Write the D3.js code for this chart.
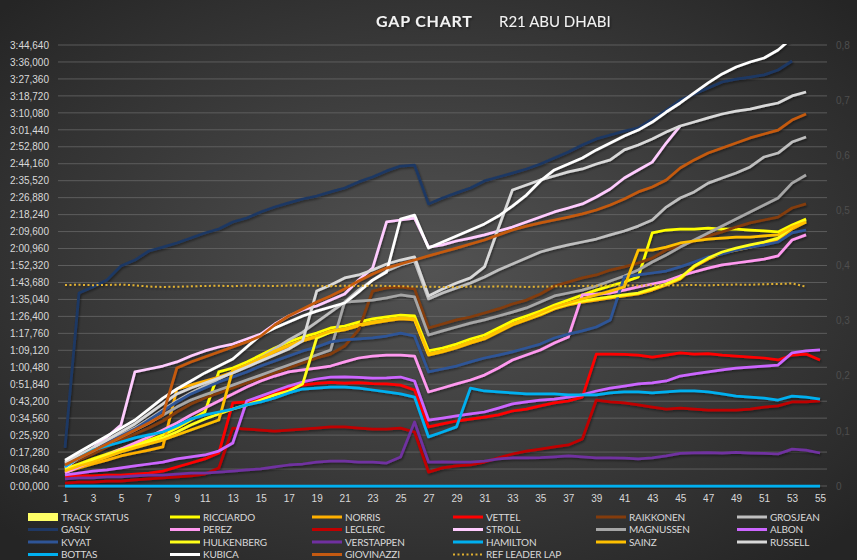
<!DOCTYPE html>
<html>
<head>
<meta charset="utf-8">
<script src="https://cdn.jsdelivr.net/npm/d3@7"></script>
<style>
html, body { margin: 0; padding: 0; background: #2a2a2a; }
svg { display: block; font-family: Lato, "Open Sans", sans-serif; }
</style>
</head>
<body>
<svg id="chart" width="857" height="560"></svg>
<script>
// laps on the x axis
var laps = [1,2,3,4,5,6,7,8,9,10,11,12,13,14,15,16,17,18,19,20,21,22,23,24,25,26,27,28,29,30,
  31,32,33,34,35,36,37,38,39,40,41,42,43,44,45,46,47,48,49,50,51,52,53,54,55];

// left axis ticks (seconds), right axis ticks
var yTicks = [0, 8.64, 17.28, 25.92, 34.56, 43.2, 51.84, 60.48, 69.12, 77.76, 86.4, 95.04, 103.68,
  112.32, 120.96, 129.6, 138.24, 146.88, 155.52, 164.16, 172.8, 181.44, 190.08, 198.72, 207.36, 216, 224.64];
var y2Ticks = [0, 0.1, 0.2, 0.3, 0.4, 0.5, 0.6, 0.7, 0.8];

// gap to leader, seconds, one value per lap
var trackStatus = [0,0,0,0,0,0,0,0,0,0,0,0,0,0,0,0,0,0,0,0,0,0,0,0,0,0,0,0,0,0,0,0,0,0,0,0,0,0,0,0,0,0,0,0,0,0,0,0,0,0,0,0,0,0,0];
var ricciardo = [8.7, 11.2, 13.8, 16.3, 18.8, 20.9, 23.4, 26.0, 29.5, 33.6, 37.7, 58.1, 60.1, 63.2, 66.7, 70.3, 73.4, 75.9, 77.9, 80.5,
  81.5, 83.5, 85.1, 86.1, 87.1, 86.6, 68.8, 70.3, 72.3, 74.9, 76.9, 80.5, 84.1, 86.6, 89.1, 92.2, 94.7, 97.3, 99.8, 101.9,
  103.9, 106.5, 128.9, 130.4, 130.9, 130.9, 131.4, 130.9, 130.9, 130.4, 129.9, 129.4, 133.0, 136.0];
var norris = [7.1, 9.2, 11.2, 13.2, 15.3, 16.8, 18.3, 19.9, 49.4, 51.4, 53.5, 55.5, 58.1, 61.1, 64.7, 68.3, 71.3, 73.9, 75.9, 78.4,
  79.5, 81.5, 83.0, 84.1, 85.1, 84.6, 66.7, 68.3, 70.3, 72.8, 74.9, 78.4, 82.0, 84.6, 87.1, 90.2, 92.2, 93.7, 94.7, 95.8,
  96.8, 97.8, 99.8, 102.4, 105.4, 111.6, 115.6, 118.7, 120.2, 121.7, 123.3, 125.3, 130.9, 134.5];
var vettel = [4.6, 5.1, 5.1, 5.6, 5.6, 6.1, 6.6, 7.6, 9.7, 11.7, 13.8, 16.8, 42.3, 42.8, 44.8, 47.4, 49.9, 51.4, 52.3, 52.8,
  52.4, 52.7, 52.2, 52.0, 51.4, 48.9, 30.1, 31.6, 33.1, 34.1, 35.1, 36.2, 38.2, 39.2, 40.8, 42.3, 43.3, 45.3, 67.2, 67.2,
  67.0, 66.7, 65.7, 66.7, 67.8, 67.2, 67.4, 66.7, 66.2, 65.7, 65.2, 64.2, 66.7, 67.2, 64.2];
var raikkonen = [10.2, 13.2, 16.3, 19.9, 23.4, 26.5, 29.5, 33.1, 37.7, 41.8, 44.8, 47.4, 49.9, 52.5, 55.0, 57.6, 60.1, 62.7, 65.2, 67.2,
  71.3, 79.5, 99.3, 100.9, 101.4, 100.4, 80.5, 82.5, 84.6, 86.1, 88.1, 90.2, 92.7, 94.7, 97.8, 101.9, 103.9, 106.0, 107.5, 110.0,
  111.6, 113.6, 116.1, 120.2, 122.3, 124.8, 127.4, 129.4, 131.9, 134.0, 135.5, 137.0, 141.6, 143.7];
var grosjean = [11.7, 15.3, 18.8, 22.4, 26.0, 29.5, 34.1, 38.7, 43.3, 47.4, 50.9, 54.5, 58.1, 61.6, 65.2, 69.8, 74.4, 78.4, 83.5, 88.6,
  93.7, 99.8, 104.9, 109.5, 112.6, 114.6, 95.3, 98.3, 100.9, 103.4, 106.5, 110.0, 113.1, 116.1, 119.2, 121.2, 122.8, 124.3, 125.8, 127.9,
  129.9, 132.4, 135.5, 142.1, 146.7, 149.8, 154.3, 156.9, 159.4, 162.5, 167.6, 169.6, 175.2, 177.8];
var gasly = [19.4, 98.3, 101.4, 104.9, 112.1, 115.1, 119.7, 121.7, 123.8, 126.3, 128.9, 130.9, 134.5, 136.5, 139.6, 142.1, 144.2, 146.2, 147.7, 149.8,
  151.8, 154.9, 157.4, 160.5, 163.0, 163.4, 143.7, 146.7, 149.3, 151.8, 155.4, 157.4, 159.4, 161.5, 164.0, 167.1, 170.1, 173.7, 176.8, 178.8,
  180.8, 182.4, 186.9, 191.5, 196.6, 199.7, 202.7, 205.8, 207.3, 208.3, 209.4, 211.9, 216.5];
var perez = [6.6, 9.7, 12.7, 15.8, 18.8, 21.9, 25.0, 28.5, 32.1, 36.2, 39.7, 43.3, 46.9, 50.4, 53.5, 56.0, 58.1, 59.1, 60.1, 61.1,
  63.2, 65.2, 66.2, 66.7, 66.7, 66.2, 47.9, 49.9, 52.0, 54.0, 56.5, 60.1, 64.2, 66.7, 69.3, 72.8, 75.9, 97.3, 97.8, 98.3,
  99.8, 101.4, 102.9, 104.4, 107.0, 109.0, 111.0, 112.6, 113.6, 114.6, 115.6, 117.2, 125.3, 127.9];
var leclerc = [1.5, 2.0, 2.0, 2.5, 2.5, 3.1, 3.6, 4.1, 4.6, 5.1, 6.1, 9.2, 29.5, 29.0, 28.5, 28.0, 28.5, 29.0, 29.5, 30.1,
  30.1, 29.5, 29.0, 29.0, 29.5, 27.5, 7.1, 9.2, 10.2, 10.7, 12.2, 14.3, 16.3, 17.8, 18.8, 19.9, 20.9, 23.9, 43.8, 42.8,
  42.3, 41.3, 40.2, 39.2, 39.7, 39.2, 38.7, 38.7, 38.7, 39.2, 40.2, 40.8, 42.8, 42.8, 43.4];
var stroll = [9.2, 14.3, 19.4, 25.0, 31.1, 58.1, 59.6, 61.1, 63.2, 66.2, 68.8, 70.8, 72.3, 74.9, 77.4, 82.5, 86.6, 89.7, 91.7, 94.7,
  97.8, 104.9, 111.0, 134.5, 135.5, 136.5, 121.7, 122.8, 124.8, 126.3, 127.9, 129.9, 131.9, 134.5, 137.0, 139.6, 141.6, 143.7, 147.2, 151.3,
  156.9, 161.0, 165.0, 174.7, 183.4];
var magnussen = [11.2, 14.3, 17.8, 21.4, 25.0, 28.5, 32.1, 36.2, 40.2, 43.8, 46.4, 48.9, 51.4, 54.0, 56.5, 59.1, 61.6, 64.2, 66.7, 69.3,
  93.7, 94.2, 94.7, 95.8, 97.3, 96.3, 76.9, 79.0, 81.0, 83.0, 84.6, 86.6, 88.6, 90.7, 93.7, 96.8, 98.3, 99.8, 101.9, 104.4,
  107.0, 110.0, 114.1, 117.7, 121.7, 125.3, 128.9, 132.4, 136.0, 139.6, 143.1, 146.7, 154.3, 158.4];
var albon = [5.6, 6.6, 7.6, 8.2, 9.2, 10.2, 11.2, 12.2, 13.8, 14.8, 15.8, 17.8, 21.9, 43.3, 45.8, 48.4, 50.9, 53.0, 54.5, 55.5,
  55.6, 55.3, 55.0, 55.1, 55.5, 53.5, 33.6, 34.6, 35.7, 36.7, 37.7, 39.7, 41.8, 42.8, 43.8, 44.3, 45.3, 46.4, 48.4, 49.9,
  50.9, 52.0, 52.5, 53.5, 56.0, 57.1, 58.1, 59.1, 60.1, 60.6, 61.1, 61.6, 67.8, 68.8, 69.3];
var kvyat = [10.2, 14.3, 18.3, 21.9, 25.5, 29.0, 33.6, 38.2, 42.8, 46.9, 49.9, 53.0, 55.5, 58.1, 61.1, 63.7, 66.2, 68.8, 70.8, 73.4,
  74.4, 74.9, 75.4, 76.4, 77.9, 76.4, 58.1, 59.6, 61.1, 63.2, 65.2, 66.7, 68.3, 70.3, 72.3, 75.4, 77.4, 79.0, 81.0, 84.6,
  106.5, 107.5, 108.5, 109.5, 111.6, 114.1, 116.7, 118.2, 120.2, 121.7, 122.8, 124.3, 128.9, 130.4];
var hulkenberg = [8.2, 10.7, 13.2, 15.8, 18.3, 20.4, 22.4, 24.5, 27.5, 31.1, 34.1, 36.7, 39.2, 41.3, 43.8, 46.4, 48.4, 52.0, 75.4, 78.4,
  80.0, 82.0, 83.5, 84.6, 85.6, 85.1, 67.2, 68.8, 70.8, 73.4, 75.4, 79.0, 82.5, 85.1, 87.6, 90.7, 92.7, 94.2, 95.3, 96.3,
  97.3, 98.3, 100.4, 102.9, 106.0, 112.1, 116.1, 119.2, 121.2, 122.8, 124.3, 126.3, 131.9, 135.5];
var verstappen = [3.6, 4.1, 4.1, 4.6, 4.6, 5.1, 5.6, 5.6, 6.1, 6.6, 6.6, 7.1, 7.6, 8.2, 8.7, 9.7, 10.7, 11.2, 12.2, 12.7,
  12.7, 12.2, 12.2, 11.7, 14.8, 32.6, 12.2, 12.3, 12.1, 12.2, 12.7, 13.8, 14.3, 14.3, 14.4, 14.8, 15.3, 14.8, 14.3, 14.3,
  14.2, 13.8, 14.3, 15.3, 16.6, 16.9, 17.0, 16.7, 17.1, 16.8, 16.6, 16.3, 18.8, 18.3, 16.8];
var hamilton = [0,0,0,0,0,0,0,0,0,0,0,0,0,0,0,0,0,0,0,0,0,0,0,0,0,0,0,0,0,0,0,0,0,0,0,0,0,0,0,0,0,0,0,0,0,0,0,0,0,0,0,0,0,0,0];
var sainz = [7.6, 10.2, 12.2, 14.8, 17.3, 19.4, 21.4, 23.4, 26.0, 28.5, 31.1, 33.6, 59.1, 61.6, 65.2, 68.8, 71.8, 74.4, 76.4, 79.0,
  80.0, 82.0, 83.5, 84.6, 85.6, 85.1, 67.2, 68.8, 70.8, 73.4, 75.4, 79.0, 82.5, 85.1, 88.1, 91.2, 93.2, 95.3, 97.3, 99.3,
  101.4, 120.2, 120.2, 121.7, 123.8, 124.8, 125.8, 126.3, 126.8, 126.8, 127.4, 127.9, 131.9, 134.5];
var russell = [12.2, 15.8, 19.4, 23.4, 27.5, 31.6, 36.7, 41.8, 46.9, 49.9, 52.5, 55.0, 57.6, 60.6, 63.7, 66.7, 69.8, 73.9, 99.3, 102.4,
  106.0, 107.5, 110.0, 113.1, 115.1, 116.7, 96.8, 100.4, 103.4, 106.0, 111.6, 131.4, 150.8, 153.3, 155.9, 157.9, 160.0, 161.5, 164.0, 166.1,
  171.2, 173.7, 176.8, 180.3, 183.4, 185.4, 187.5, 189.5, 191.0, 192.0, 193.6, 195.1, 198.7, 200.7];
var bottas = [9.7, 14.3, 18.3, 20.4, 22.4, 24.5, 26.0, 27.5, 30.6, 34.1, 36.2, 37.7, 39.2, 41.3, 42.8, 44.8, 47.4, 49.4, 49.9, 50.4,
  50.4, 49.9, 48.9, 47.9, 46.9, 45.3, 25.0, 27.5, 30.1, 49.9, 48.4, 47.9, 47.4, 46.9, 46.9, 46.9, 46.4, 46.4, 46.4, 47.4,
  47.9, 47.9, 47.4, 47.9, 48.4, 48.4, 47.9, 46.9, 45.8, 45.3, 44.8, 43.8, 45.8, 45.3, 44.3];
var kubica = [13.2, 17.3, 21.4, 25.5, 29.5, 33.6, 39.2, 44.8, 49.4, 53.5, 57.6, 61.1, 64.7, 70.8, 76.9, 80.5, 83.5, 86.6, 89.1, 91.2,
  93.2, 98.8, 104.9, 109.0, 136.0, 138.0, 121.2, 124.3, 127.4, 130.4, 133.5, 137.5, 142.6, 148.2, 155.4, 161.0, 164.0, 167.1, 171.2, 174.7,
  178.3, 181.3, 185.4, 190.5, 195.1, 200.2, 205.3, 209.9, 213.4, 216.0, 218.0, 222.1, 228.2];
var giovinazzi = [10.7, 14.3, 17.8, 21.4, 25.0, 28.5, 32.1, 36.2, 60.1, 63.2, 65.7, 68.3, 70.8, 73.4, 76.4, 82.0, 86.6, 90.2, 93.7, 96.8,
  100.4, 104.4, 108.0, 111.0, 113.1, 115.1, 117.2, 119.2, 121.2, 123.3, 125.3, 127.9, 130.4, 132.4, 134.0, 135.5, 137.0, 138.6, 140.6, 143.1,
  146.2, 149.8, 152.3, 155.9, 162.0, 166.1, 169.6, 172.2, 174.7, 177.3, 179.3, 181.3, 186.4, 189.5];
var refLeaderLap = [102.4, 102.5, 102.3, 102.4, 102.6, 102.2, 101.6, 101.4, 101.5, 101.7, 101.9, 102.0, 101.8, 102.1, 102.0, 101.9, 102.1, 102.2, 102.0, 101.8,
  102.0, 101.9, 102.1, 101.9, 101.8, 101.6, 101.5, 101.4, 101.3, 101.6, 101.5, 101.7, 101.6, 101.4, 101.6, 101.7, 101.8, 101.9, 102.0, 102.1,
  102.2, 102.1, 102.3, 102.2, 102.3, 102.4, 102.2, 102.5, 102.6, 102.5, 102.8, 102.9, 103.2, 101.5];

// series in plotting order (same as legend order)
var series = [
  { name: "TRACK STATUS", values: trackStatus, color: "#ffff66", kind: "bar" },
  { name: "RICCIARDO", values: ricciardo, color: "#ffff00" },
  { name: "NORRIS", values: norris, color: "#ffb000" },
  { name: "VETTEL", values: vettel, color: "#ff0000" },
  { name: "RAIKKONEN", values: raikkonen, color: "#843c0c" },
  { name: "GROSJEAN", values: grosjean, color: "#bfbfbf" },
  { name: "GASLY", values: gasly, color: "#1f3864" },
  { name: "PEREZ", values: perez, color: "#ff99f0" },
  { name: "LECLERC", values: leclerc, color: "#c00000" },
  { name: "STROLL", values: stroll, color: "#ffccff" },
  { name: "MAGNUSSEN", values: magnussen, color: "#a6a6a6" },
  { name: "ALBON", values: albon, color: "#cc66ff" },
  { name: "KVYAT", values: kvyat, color: "#2f5597" },
  { name: "HULKENBERG", values: hulkenberg, color: "#ffff1a" },
  { name: "VERSTAPPEN", values: verstappen, color: "#7030a0" },
  { name: "HAMILTON", values: hamilton, color: "#00b0f0" },
  { name: "SAINZ", values: sainz, color: "#ffc000" },
  { name: "RUSSELL", values: russell, color: "#d9d9d9" },
  { name: "BOTTAS", values: bottas, color: "#00b0f0" },
  { name: "KUBICA", values: kubica, color: "#ffffff" },
  { name: "GIOVINAZZI", values: giovinazzi, color: "#c55a11" },
  { name: "REF LEADER LAP", values: refLeaderLap, color: "#e0b030", kind: "dot" }
];

var width = 857, height = 560;
var plot = { left: 58, right: 827, top: 45, bottom: 486 };

var svg = d3.select("#chart");
var defs = svg.append("defs");

var bg = defs.append("radialGradient").attr("id", "bg")
  .attr("cx", "50%").attr("cy", "48%").attr("r", "68%");
bg.append("stop").attr("offset", "0%").attr("stop-color", "#535353");
bg.append("stop").attr("offset", "100%").attr("stop-color", "#252525");

defs.append("clipPath").attr("id", "plotclip")
  .append("rect")
  .attr("x", plot.left).attr("y", plot.top - 1)
  .attr("width", plot.right - plot.left).attr("height", plot.bottom - plot.top + 4);

var shadow = defs.append("filter").attr("id", "shadow")
  .attr("x", "-5%").attr("y", "-5%").attr("width", "110%").attr("height", "115%");
shadow.append("feDropShadow").attr("dx", 1).attr("dy", 1.5).attr("stdDeviation", 1)
  .attr("flood-color", "#000").attr("flood-opacity", 0.45);

svg.append("rect").attr("width", width).attr("height", height).attr("fill", "url(#bg)");

var x = d3.scalePoint().domain(laps).range([plot.left, plot.right]).padding(0.5);
var y = d3.scaleLinear().domain([0, 224.64]).range([plot.bottom, plot.top]);
var y2 = d3.scaleLinear().domain([0, 0.8]).range([plot.bottom, plot.top]);

function fmtGap(s) {
  var ms = Math.round(s * 1000);
  var m = Math.floor(ms / 60000);
  var rest = ms - m * 60000;
  var sec = Math.floor(rest / 1000);
  var milli = rest - sec * 1000;
  return m + ":" + d3.format("02d")(sec) + "," + d3.format("03d")(milli);
}

// gridlines
svg.append("g").selectAll("line").data(yTicks).enter().append("line")
  .attr("x1", plot.left).attr("x2", plot.right)
  .attr("y1", function (d) { return y(d); })
  .attr("y2", function (d) { return y(d); })
  .attr("stroke", "#6a6a6a").attr("stroke-width", 1).attr("opacity", 0.75);

// left axis
var yAxis = svg.append("g")
  .attr("transform", "translate(" + (plot.left - 9) + ",0)")
  .call(d3.axisLeft(y).tickValues(yTicks).tickFormat(fmtGap).tickSize(0).tickPadding(0));
yAxis.select(".domain").remove();
yAxis.selectAll("text").attr("fill", "#d9d9d9").style("font-size", "10px");

// right axis
var y2Axis = svg.append("g")
  .attr("transform", "translate(" + (plot.right + 9) + ",0)")
  .call(d3.axisRight(y2).tickValues(y2Ticks)
    .tickFormat(function (d) { return d === 0 ? "0" : d3.format(".1f")(d).replace(".", ","); })
    .tickSize(0).tickPadding(0));
y2Axis.select(".domain").remove();
y2Axis.selectAll("text").attr("fill", "#4e4e4e").style("font-size", "10px");

// bottom axis, odd laps labelled
var xAxis = svg.append("g")
  .attr("transform", "translate(0," + (plot.bottom + 5) + ")")
  .call(d3.axisBottom(x).tickValues(laps.filter(function (d) { return d % 2 === 1; })).tickSize(0).tickPadding(4));
xAxis.select(".domain").remove();
xAxis.selectAll("text").attr("fill", "#d9d9d9").style("font-size", "10px");

// series
var line = d3.line()
  .defined(function (d) { return d != null; })
  .x(function (d, i) { return x(laps[i]); })
  .y(function (d) { return y(d); });

var marks = svg.append("g").attr("clip-path", "url(#plotclip)")
  .append("g").attr("filter", "url(#shadow)");

series.forEach(function (s) {
  if (s.kind === "bar") {
    var bw = x.step() * 0.6;
    marks.append("g").selectAll("rect").data(s.values).enter().append("rect")
      .attr("x", function (d, i) { return x(laps[i]) - bw / 2; })
      .attr("width", bw)
      .attr("y", function (d) { return y2(d); })
      .attr("height", function (d) { return y2(0) - y2(d); })
      .attr("fill", s.color);
    return;
  }
  var path = marks.append("path")
    .datum(s.values)
    .attr("d", line)
    .attr("fill", "none")
    .attr("stroke", s.color)
    .attr("stroke-linejoin", "round");
  if (s.kind === "dot") {
    path.attr("stroke-width", 2).attr("stroke-dasharray", "2,2.5");
  } else {
    path.attr("stroke-width", 2.75);
  }
});

// title
var title = svg.append("g").attr("filter", "url(#shadow)");
title.append("text").attr("x", 376).attr("y", 27)
  .attr("fill", "#f2f2f2").style("font-size", "16px").style("font-weight", "bold")
  .style("letter-spacing", "0.8px").text("GAP CHART");
title.append("text").attr("x", 499).attr("y", 27)
  .attr("fill", "#f2f2f2").style("font-size", "15px")
  .text("R21 ABU DHABI");

// legend, 6 columns
var colX = [28, 170, 312, 453, 596, 737];
var rowY = [517, 529.5, 542, 554.5];
var legend = svg.append("g");
series.forEach(function (s, i) {
  var cx = colX[i % 6], cy = rowY[Math.floor(i / 6)];
  var g = legend.append("g").attr("transform", "translate(" + cx + "," + cy + ")");
  if (s.kind === "bar") {
    g.append("rect").attr("x", 0).attr("y", -4).attr("width", 30).attr("height", 8).attr("fill", s.color);
  } else {
    g.append("line").attr("x1", 0).attr("x2", 30).attr("y1", 0).attr("y2", 0)
      .attr("stroke", s.color)
      .attr("stroke-width", s.kind === "dot" ? 2 : 3)
      .attr("stroke-dasharray", s.kind === "dot" ? "2,2.5" : null);
  }
  g.append("text").attr("x", 33).attr("y", 3.8)
    .attr("fill", "#d9d9d9").style("font-size", "10px").style("letter-spacing", "-0.2px")
    .text(s.name);
});
</script>
</body>
</html>
